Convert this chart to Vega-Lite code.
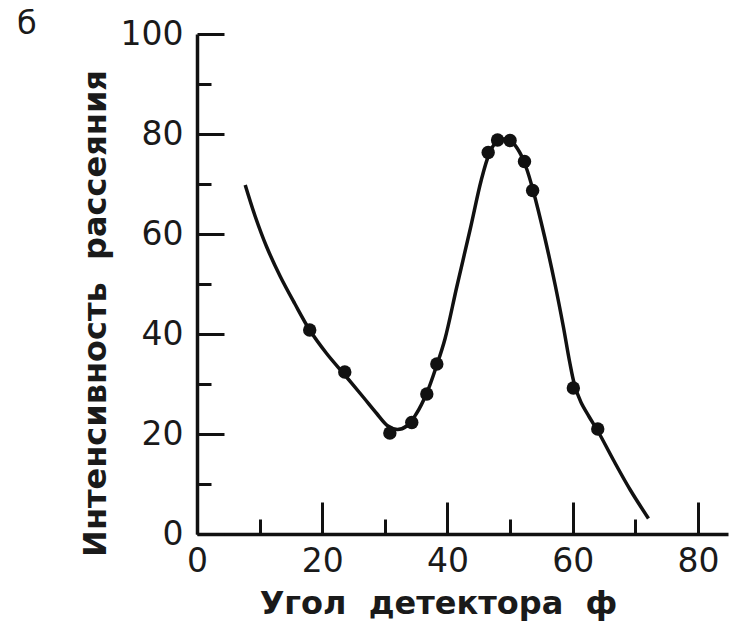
{
  "$schema": "https://vega.github.io/schema/vega-lite/v6.json",
  "width": 531,
  "height": 500,
  "autosize": "none",
  "padding": {"left": 197, "top": 34, "right": 3, "bottom": 98},
  "background": "white",
  "config": {
    "view": {"stroke": null},
    "axis": {"grid": false, "labelFont": "DejaVu Sans", "titleFont": "DejaVu Sans", "labelColor": "#1a1a1a", "titleColor": "#1a1a1a", "domainColor": "#111", "tickColor": "#111", "labelFlush": false, "labelOverlap": false}
  },
  "title": {"text": "б", "anchor": "start", "orient": "top", "frame": "group", "font": "DejaVu Sans", "fontSize": 32, "fontWeight": "normal", "color": "#1a1a1a", "dx": -180, "dy": 23, "offset": 0},
  "datasets": {
    "curve": [
      {"angle": 7.7, "intensity": 69.8},
      {"angle": 9.3, "intensity": 63.5},
      {"angle": 11.1, "intensity": 57.5},
      {"angle": 13.3, "intensity": 51.5},
      {"angle": 15.6, "intensity": 46.1},
      {"angle": 18.0, "intensity": 40.8},
      {"angle": 20.7, "intensity": 36.1},
      {"angle": 23.6, "intensity": 31.8},
      {"angle": 26.6, "intensity": 27.3},
      {"angle": 28.7, "intensity": 24.1},
      {"angle": 30.5, "intensity": 21.6},
      {"angle": 32.0, "intensity": 20.9},
      {"angle": 33.5, "intensity": 21.6},
      {"angle": 35.0, "intensity": 24.0},
      {"angle": 36.7, "intensity": 28.2},
      {"angle": 38.3, "intensity": 33.8},
      {"angle": 39.6, "intensity": 39.0},
      {"angle": 41.5, "intensity": 49.5},
      {"angle": 43.6, "intensity": 60.8},
      {"angle": 45.4, "intensity": 70.8},
      {"angle": 46.6, "intensity": 75.8},
      {"angle": 47.7, "intensity": 78.3},
      {"angle": 49.0, "intensity": 79.0},
      {"angle": 50.3, "intensity": 78.4},
      {"angle": 51.5, "intensity": 76.4},
      {"angle": 52.6, "intensity": 73.2},
      {"angle": 53.7, "intensity": 68.6},
      {"angle": 55.5, "intensity": 59.5},
      {"angle": 57.2, "intensity": 49.8},
      {"angle": 58.5, "intensity": 41.5},
      {"angle": 59.5, "intensity": 34.5},
      {"angle": 60.3, "intensity": 29.8},
      {"angle": 61.3, "intensity": 26.4},
      {"angle": 62.6, "intensity": 23.5},
      {"angle": 64.1, "intensity": 20.4},
      {"angle": 66.5, "intensity": 14.8},
      {"angle": 69.2, "intensity": 8.8},
      {"angle": 72.1, "intensity": 3.1}
    ],
    "points": [
      {"angle": 18.0, "intensity": 40.8},
      {"angle": 23.6, "intensity": 32.4},
      {"angle": 30.8, "intensity": 20.2},
      {"angle": 34.3, "intensity": 22.3},
      {"angle": 36.7, "intensity": 28.0},
      {"angle": 38.3, "intensity": 34.0},
      {"angle": 46.5, "intensity": 76.3},
      {"angle": 48.0, "intensity": 78.8},
      {"angle": 50.0, "intensity": 78.7},
      {"angle": 52.3, "intensity": 74.5},
      {"angle": 53.6, "intensity": 68.7},
      {"angle": 60.1, "intensity": 29.2},
      {"angle": 64.0, "intensity": 21.0}
    ]
  },
  "layer": [
    {
      "data": {"name": "curve"},
      "mark": {"type": "line", "interpolate": "catmull-rom", "color": "#111", "strokeWidth": 3.5, "clip": false},
      "encoding": {
        "x": {"field": "angle", "type": "quantitative", "scale": {"domain": [0, 84.8], "nice": false, "zero": false},
          "axis": {"orient": "bottom", "values": [0, 20, 40, 60, 80], "tickSize": -32, "tickWidth": 3, "domainWidth": 3.5, "labelFontSize": 33, "labelPadding": 43, "title": "Угол\u00a0\u00a0детектора\u00a0\u00a0ф", "titleFontSize": 32, "titleFontWeight": "bold", "titleX": 241, "titleY": 69, "titleAlign": "center", "titleBaseline": "middle", "titleAnchor": null}},
        "y": {"field": "intensity", "type": "quantitative", "scale": {"domain": [0, 100], "nice": false},
          "axis": {"orient": "left", "values": [0, 20, 40, 60, 80, 100], "tickSize": -27, "tickWidth": 3, "domainWidth": 3.5, "labelFontSize": 33, "labelPadding": 41, "title": "Интенсивность\u00a0\u00a0рассеяния", "titleFontSize": 32, "titleFontWeight": "bold", "titleAngle": -90, "titleX": -102, "titleY": 279, "titleAlign": "center", "titleBaseline": "middle", "titleAnchor": null}}
      }
    },
    {
      "data": {"name": "points"},
      "mark": {"type": "point", "filled": true, "shape": "circle", "color": "#111", "size": 180, "opacity": 1},
      "encoding": {
        "x": {"field": "angle", "type": "quantitative", "scale": {"domain": [0, 84.8], "nice": false, "zero": false},
          "axis": {"orient": "bottom", "values": [10, 30, 50, 70], "tickSize": -15, "tickWidth": 3, "domain": false, "labels": false, "title": null}},
        "y": {"field": "intensity", "type": "quantitative", "scale": {"domain": [0, 100], "nice": false},
          "axis": {"orient": "left", "values": [10, 30, 50, 70, 90], "tickSize": -14, "tickWidth": 3, "domain": false, "labels": false, "title": null}}
      }
    }
  ],
  "resolve": {"axis": {"x": "independent", "y": "independent"}}
}
